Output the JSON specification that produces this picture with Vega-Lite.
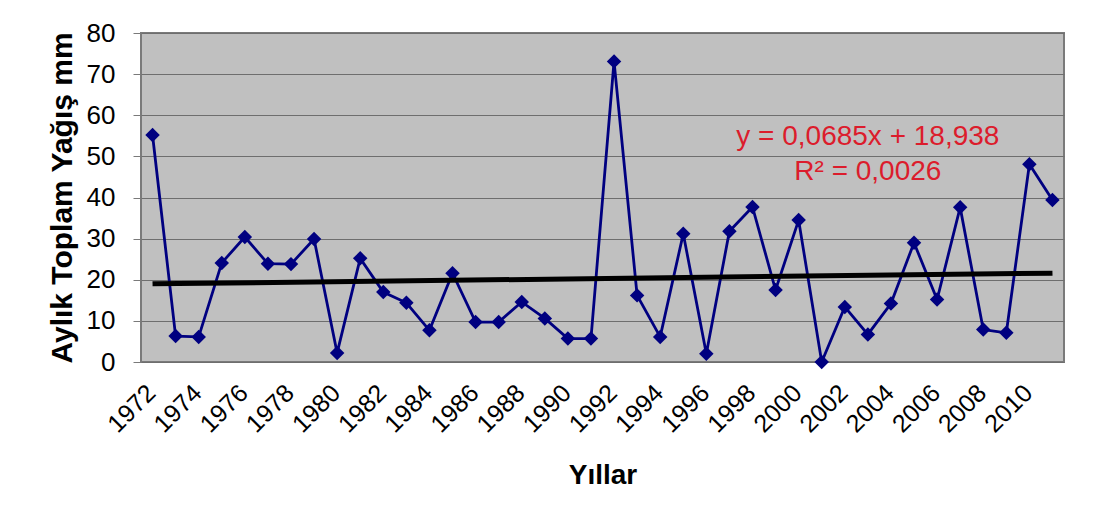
{
  "$schema": "https://vega.github.io/schema/vega-lite/v6.json",
  "width": 923,
  "height": 329,
  "autosize": {"type": "none"},
  "padding": {"left": 141, "top": 33, "right": 33, "bottom": 163},
  "background": "white",
  "config": {
    "font": "Liberation Sans",
    "view": {"fill": "#c0c0c0", "stroke": "#7a7a7a", "strokeWidth": 2}
  },
  "datasets": {
    "rain": [
      {"year": 1972, "mm": 55.2}, {"year": 1973, "mm": 6.3}, {"year": 1974, "mm": 6.1},
      {"year": 1975, "mm": 24.1}, {"year": 1976, "mm": 30.4}, {"year": 1977, "mm": 23.9},
      {"year": 1978, "mm": 23.8}, {"year": 1979, "mm": 29.9}, {"year": 1980, "mm": 2.2},
      {"year": 1981, "mm": 25.2}, {"year": 1982, "mm": 17.0}, {"year": 1983, "mm": 14.4},
      {"year": 1984, "mm": 7.7}, {"year": 1985, "mm": 21.6}, {"year": 1986, "mm": 9.7},
      {"year": 1987, "mm": 9.7}, {"year": 1988, "mm": 14.6}, {"year": 1989, "mm": 10.6},
      {"year": 1990, "mm": 5.7}, {"year": 1991, "mm": 5.7}, {"year": 1992, "mm": 73.1},
      {"year": 1993, "mm": 16.2}, {"year": 1994, "mm": 6.1}, {"year": 1995, "mm": 31.2},
      {"year": 1996, "mm": 2.0}, {"year": 1997, "mm": 31.8}, {"year": 1998, "mm": 37.7},
      {"year": 1999, "mm": 17.5}, {"year": 2000, "mm": 34.5}, {"year": 2001, "mm": 0.0},
      {"year": 2002, "mm": 13.4}, {"year": 2003, "mm": 6.7}, {"year": 2004, "mm": 14.2},
      {"year": 2005, "mm": 29.0}, {"year": 2006, "mm": 15.2}, {"year": 2007, "mm": 37.6},
      {"year": 2008, "mm": 7.9}, {"year": 2009, "mm": 7.1}, {"year": 2010, "mm": 48.1},
      {"year": 2011, "mm": 39.4}
    ],
    "trend": [
      {"year": 1972, "mm": 19.0},
      {"year": 2011, "mm": 21.6}
    ],
    "eq": [
      {"year": 2003, "mm": 54.6, "label": "y = 0,0685x + 18,938"},
      {"year": 2003, "mm": 46.2, "label": "R² = 0,0026"}
    ]
  },
  "encoding": {
    "x": {
      "field": "year",
      "type": "ordinal",
      "scale": {"type": "point", "padding": 0.5},
      "axis": {
        "values": [1972, 1974, 1976, 1978, 1980, 1982, 1984, 1986, 1988, 1990, 1992, 1994, 1996, 1998, 2000, 2002, 2004, 2006, 2008, 2010],
        "labelAngle": -45,
        "labelFontSize": 25,
        "labelColor": "black",
        "labelPadding": 18,
        "labelOffset": -10,
        "ticks": false,
        "domain": false,
        "grid": false,
        "title": "Yıllar",
        "titleFontSize": 28,
        "titleFontWeight": "bold",
        "titleColor": "black",
        "titlePadding": 24
      }
    },
    "y": {
      "field": "mm",
      "type": "quantitative",
      "scale": {"domain": [0, 80], "nice": false},
      "axis": {
        "values": [0, 10, 20, 30, 40, 50, 60, 70, 80],
        "labelFontSize": 26,
        "labelColor": "black",
        "labelPadding": 18,
        "tickSize": 8,
        "tickColor": "#7a7a7a",
        "domain": false,
        "grid": true,
        "gridColor": "#6e6e6e",
        "gridWidth": 1.2,
        "gridOpacity": 1,
        "title": "Aylık Toplam Yağış mm",
        "titleFontSize": 30,
        "titleFontWeight": "bold",
        "titleColor": "black",
        "titlePadding": 9
      }
    }
  },
  "layer": [
    {
      "data": {"name": "rain"},
      "mark": {"type": "line", "color": "#000080", "strokeWidth": 2.8}
    },
    {
      "data": {"name": "rain"},
      "mark": {"type": "point", "shape": "diamond", "filled": true, "color": "#000080", "size": 210, "opacity": 1}
    },
    {
      "data": {"name": "trend"},
      "mark": {"type": "line", "color": "black", "strokeWidth": 5}
    },
    {
      "data": {"name": "eq"},
      "mark": {"type": "text", "color": "#dc1c2c", "fontSize": 28, "align": "center", "baseline": "middle"},
      "encoding": {"text": {"field": "label"}}
    }
  ]
}
